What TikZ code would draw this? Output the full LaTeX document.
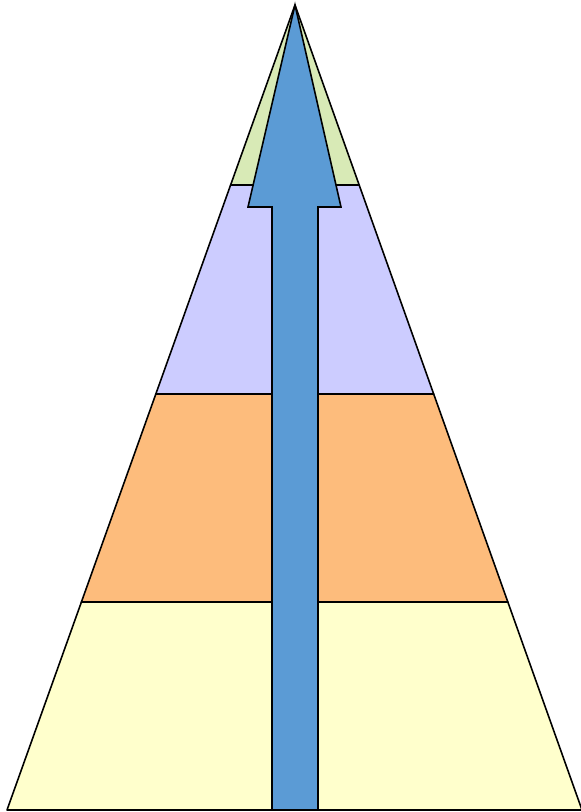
\documentclass[tikz,border=0pt]{standalone}
\usepackage{tikz}
\usetikzlibrary{calc}
\definecolor{pygreen}{HTML}{D8EAB6}
\definecolor{pylilac}{HTML}{CCCCFF}
\definecolor{pyorange}{HTML}{FDBC7C}
\definecolor{pyyellow}{HTML}{FFFFCC}
\definecolor{pyblue}{HTML}{5B9BD5}

\begin{document}
\begin{tikzpicture}[
  x=0.02cm, y=-0.02cm,
  band/.style={draw=black, fill=#1, line width=0.9pt, line join=round},
  uparrow/.style={draw=black, fill=pyblue, line width=0.9pt, line join=miter},
]
  \useasboundingbox (0,0) rectangle (581,812);
  \coordinate (apex) at (295,5);
  \coordinate (bl) at (7,810);
  \coordinate (br) at (582,810);
  % level boundaries on the two slopes
  \coordinate (l1) at ($(apex)!0.2236!(bl)$);
  \coordinate (r1) at ($(apex)!0.2236!(br)$);
  \coordinate (l2) at ($(apex)!0.4832!(bl)$);
  \coordinate (r2) at ($(apex)!0.4832!(br)$);
  \coordinate (l3) at ($(apex)!0.7416!(bl)$);
  \coordinate (r3) at ($(apex)!0.7416!(br)$);

  \draw[band=pygreen] (apex) -- (r1) -- (l1) -- cycle;
  \draw[band=pylilac] (l1) -- (r1) -- (r2) -- (l2) -- cycle;
  \draw[band=pyorange] (l2) -- (r2) -- (r3) -- (l3) -- cycle;
  \draw[band=pyyellow] (l3) -- (r3) -- (br) -- (bl) -- cycle;

  % block arrow up the middle
  \draw[uparrow] (apex) -- (341,207) -- (318,207) -- (318,810)
    -- (272,810) -- (272,207) -- (248,207) -- cycle;
\end{tikzpicture}
\end{document}
